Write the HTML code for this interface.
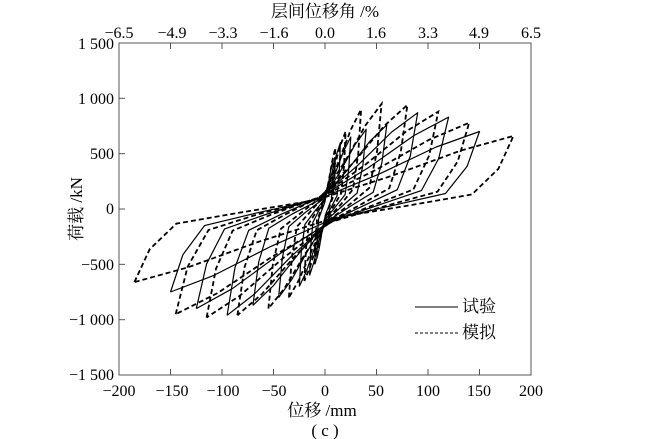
<!DOCTYPE html>
<html><head><meta charset="utf-8"><style>
html,body{margin:0;padding:0;background:#fff;}
svg{display:block;font-family:"Liberation Serif","Noto Serif CJK SC",serif;}
</style></head><body>
<svg id="s" width="670" height="439" viewBox="0 0 670 439" xmlns="http://www.w3.org/2000/svg">
<g fill="#000" font-size="16">
<text x="325" y="17" text-anchor="middle" font-size="17">层间位移角 /%</text>
<g text-anchor="middle">
<text x="119" y="38">−6.5</text><text x="172" y="38">−4.9</text><text x="223" y="38">−3.3</text><text x="274" y="38">−1.6</text><text x="325" y="38">0.0</text><text x="376" y="38">1.6</text><text x="428" y="38">3.3</text><text x="479" y="38">4.9</text><text x="531" y="38">6.5</text>
<text x="119" y="396">−200</text><text x="172" y="396">−150</text><text x="223" y="396">−100</text><text x="274" y="396">−50</text><text x="325" y="396">0</text><text x="376" y="396">50</text><text x="428" y="396">100</text><text x="479" y="396">150</text><text x="531" y="396">200</text>
<text x="322" y="416" font-size="17">位移 /mm</text>
<text x="325" y="436" font-size="17">( c )</text>
</g>
<g text-anchor="end">
<text x="114" y="49">1 500</text><text x="114" y="104">1 000</text><text x="114" y="159">500</text><text x="114" y="214">0</text><text x="114" y="270">−500</text><text x="114" y="325">−1 000</text><text x="114" y="380">−1 500</text>
</g>
<text transform="translate(82,209) rotate(-90)" text-anchor="middle" font-size="17">荷载 /kN</text>
<text x="462" y="312" font-size="17">试验</text>
<text x="462" y="338" font-size="17">模拟</text>
</g>
<line x1="415" y1="307" x2="458" y2="307" stroke="#000" stroke-width="1"/>
<line x1="415" y1="333" x2="458" y2="333" stroke="#000" stroke-width="1" stroke-dasharray="3,2"/>
<rect x="119" y="43" width="412" height="332" fill="none" stroke="#555" stroke-width="1"/>
<g id="ticks" stroke="#555" stroke-width="1"></g>
<g id="curves" fill="none" stroke="#000"></g>
</svg>
<script>
(function(){
var X=function(d){return 325+d*1.03;},Y=function(f){return 209-f*0.1107;};
var tk=document.getElementById('ticks'),h='';
for(var i=-150;i<=150;i+=50){var x=X(i);h+='<line x1="'+x+'" y1="375" x2="'+x+'" y2="369"/><line x1="'+x+'" y1="43" x2="'+x+'" y2="49"/>';}
for(var f=-1000;f<=1000;f+=500){var y=Y(f);h+='<line x1="119" y1="'+y+'" x2="125" y2="'+y+'"/>';}
tk.innerHTML=h;
var br=[[-1,-1],[-0.92,-0.55],[-0.78,-0.2],[-0.45,-0.05],[-0.05,0.12],[0.35,0.45],[0.72,0.8],[1,1]];
function loop(Ap,Pp,An,Pn){var p=[];
 br.forEach(function(q){var A=q[0]<0?An:Ap,P=q[1]<0?Pn:Pp;p.push([X(q[0]*A),Y(q[1]*P)]);});
 br.forEach(function(q){var u=-q[0],v=-q[1];var A=u<0?An:Ap,P=v<0?Pn:Pp;p.push([X(u*A),Y(v*P)]);});
 return 'M'+p.map(function(a){return a[0].toFixed(1)+','+a[1].toFixed(1);}).join('L');}
var c=document.getElementById('curves'),s='';
var test=[[8,450,8,450],[15,600,15,600],[25,650,25,700],[40,720,45,800],[60,760,70,870],[90,870,95,960],[120,830,125,900],[150,700,150,750]];
test.forEach(function(a){s+='<path d="'+loop(a[0],a[1],a[2],a[3])+'" stroke-width="1.2" stroke-linejoin="round"/>';});
var sim=[[10,550,10,500],[20,700,20,650],[35,900,35,800],[55,950,55,900],[80,940,85,960],[110,880,115,980],[140,780,145,950],[183,660,185,660]];
sim.forEach(function(a){s+='<path d="'+loop(a[0],a[1],a[2],a[3])+'" stroke-width="1.8" stroke-dasharray="5,3"/>';});
c.innerHTML=s;
})();
</script>
</body></html>
